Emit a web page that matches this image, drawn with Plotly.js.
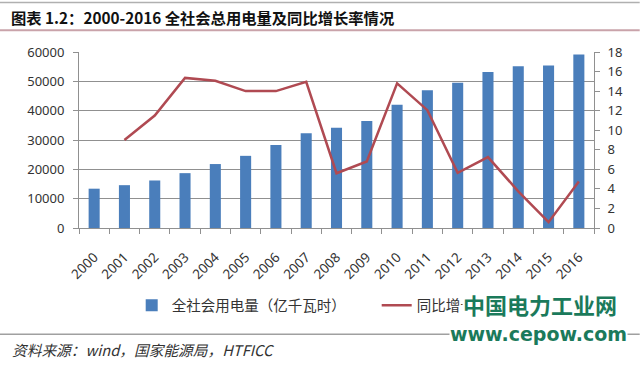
<!DOCTYPE html>
<html>
<head>
<meta charset="utf-8">
<script src="https://cdn.plot.ly/plotly-3.0.1.min.js"></script>
<style>html,body{margin:0;padding:0;background:#fff;}#chart{width:640px;height:365px;}</style>
</head>
<body>
<div id="chart"></div>
<script>
// Data
var years = ['2000','2001','2002','2003','2004','2005','2006','2007','2008','2009','2010','2011','2012','2013','2014','2015','2016'];
var consumption = [13400, 14600, 16200, 18700, 21800, 24600, 28300, 32300, 34200, 36450, 42000, 47000, 49500, 53200, 55150, 55400, 59150];
var growth = [null, 9.0, 11.5, 15.35, 15.05, 14.0, 14.0, 14.95, 5.6, 6.8, 14.8, 12.05, 5.65, 7.25, 3.75, 0.6, 4.75];
var leftTicks = [0, 10000, 20000, 30000, 40000, 50000, 60000];
var rightTicks = [0, 2, 4, 6, 8, 10, 12, 14, 16, 18];

var titleText = '图表 1.2：2000-2016 全社会总用电量及同比增长率情况';
var barName = '全社会用电量（亿千瓦时）';
var lineName = '同比增长率';
var sourceText = '资料来源：wind，国家能源局，HTFICC';
var wm1 = '中国电力工业网';
var wm2 = 'www.cepow.com';

var W = 640, H = 365;
var L = 79.3, R = 594.3, T = 51.7, B = 228.3;
function px(x){ return (x - L) / (R - L); }
function py(y){ return (B - y) / (B - T); }

var tickFont = {family: '"Noto Sans", "Liberation Sans", sans-serif', size: 13, color: '#333333'};
var cjk = '"Noto Sans CJK SC", "Noto Sans", sans-serif';
var gridCol = '#909090';

var traces = [
  {
    type: 'bar', x: years, y: consumption, name: barName,
    marker: {color: '#4a7ebb'}, yaxis: 'y'
  },
  {
    type: 'scatter', mode: 'lines', x: years, y: growth, name: lineName,
    line: {color: '#b04a52', width: 2.5}, yaxis: 'y2', connectgaps: false
  }
];

var layout = {
  width: W, height: H,
  margin: {l: L, r: W - R, t: T, b: H - B, pad: 0},
  paper_bgcolor: '#ffffff', plot_bgcolor: '#ffffff',
  bargap: 0.635,
  showlegend: true,
  legend: {
    orientation: 'h', x: px(132), xanchor: 'left', y: py(306), yanchor: 'middle',
    entrywidth: 200, entrywidthmode: 'pixels',
    font: {family: cjk, size: 14.5, color: '#333333'},
    bgcolor: 'rgba(0,0,0,0)', borderwidth: 0
  },
  xaxis: {
    type: 'category', tickangle: -45, tickfont: {family: tickFont.family, size: 13.5, color: '#333333'},
    ticks: 'outside', ticklen: 5, tickcolor: gridCol, tickson: 'boundaries',
    ticklabelstandoff: 15,
    showline: true, linecolor: gridCol, linewidth: 1,
    showgrid: false, zeroline: false, automargin: false,
    range: [-0.5, 16.5]
  },
  yaxis: {
    range: [0, 60000], tickvals: leftTicks, ticktext: leftTicks.map(String),
    tickfont: tickFont, ticks: 'outside', ticklen: 5, tickcolor: gridCol,
    ticklabelstandoff: 6,
    showline: true, linecolor: gridCol, linewidth: 1,
    showgrid: true, gridcolor: gridCol, gridwidth: 1, zeroline: false, automargin: false
  },
  yaxis2: {
    range: [0, 18], tickvals: rightTicks, ticktext: rightTicks.map(String),
    overlaying: 'y', side: 'right',
    tickfont: tickFont, ticks: 'outside', ticklen: 5, tickcolor: gridCol,
    ticklabelstandoff: 5,
    showline: true, linecolor: gridCol, linewidth: 1,
    showgrid: false, zeroline: false, automargin: false
  },
  shapes: [
    {type: 'line', xref: 'paper', yref: 'paper', x0: px(0), x1: px(640), y0: py(2), y1: py(2), line: {color: '#b0b0b0', width: 1.5}},
    {type: 'line', xref: 'paper', yref: 'paper', x0: px(0), x1: px(640), y0: py(30), y1: py(30), line: {color: '#c9a3aa', width: 2}},
    {type: 'line', xref: 'paper', yref: 'paper', x0: px(0), x1: px(640), y0: py(335), y1: py(335), line: {color: '#a0a0a0', width: 1.5}}
  ],
  annotations: [
    {text: titleText, xref: 'paper', yref: 'paper', x: px(9), y: py(17), xanchor: 'left', yanchor: 'middle', showarrow: false,
     font: {family: cjk, size: 15.3, color: '#111111', weight: 'bold'}},
    {text: sourceText, xref: 'paper', yref: 'paper', x: px(10), y: py(350), xanchor: 'left', yanchor: 'middle', showarrow: false,
     font: {family: cjk, size: 14.7, color: '#333333', style: 'italic'}},
    {text: wm1, xref: 'paper', yref: 'paper', x: px(540), y: py(305), xanchor: 'center', yanchor: 'middle', showarrow: false,
     bgcolor: '#ffffff', borderpad: 0,
     font: {family: cjk, size: 22, color: '#1b7a5b', weight: 'bold'}},
    {text: wm2, xref: 'paper', yref: 'paper', x: px(539), y: py(335), xanchor: 'center', yanchor: 'middle', showarrow: false,
     bgcolor: '#ffffff', borderpad: 0,
     font: {family: '"DejaVu Sans", sans-serif', size: 19, color: '#1b7a5b', weight: 'bold'}}
  ]
};

Plotly.newPlot('chart', traces, layout, {staticPlot: true, displayModeBar: false});
</script>
</body>
</html>
